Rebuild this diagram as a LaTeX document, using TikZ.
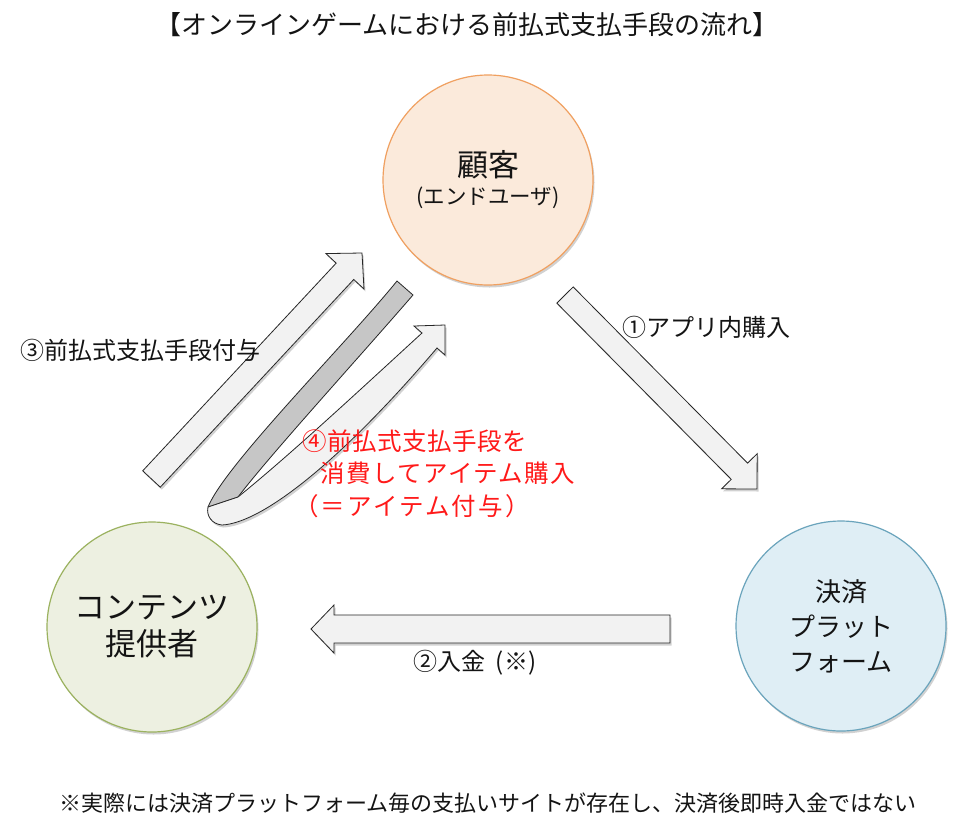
\documentclass[tikz,border=0pt]{standalone}
\usepackage{fontspec}
\setmainfont{Noto Sans CJK JP}
\usetikzlibrary{calc,shadows}
\definecolor{custfill}{HTML}{FBEADB}
\definecolor{custline}{HTML}{F0A060}
\definecolor{contfill}{HTML}{EDF0E1}
\definecolor{contline}{HTML}{9BB25F}
\definecolor{payfill}{HTML}{DFEEF5}
\definecolor{payline}{HTML}{6AA4BC}
\definecolor{arrfill}{HTML}{F2F2F2}
\definecolor{bandfill}{HTML}{C6C6C6}
\definecolor{txt}{HTML}{141414}
\definecolor{redtxt}{HTML}{FF1A1A}

\newcommand{\flowarrow}[6]{% #1 name, #2 start, #3 tip, #4 shaft half-width, #5 head half-width, #6 head length
  \coordinate (#1-s) at (#2);
  \coordinate (#1-t) at (#3);
  \coordinate (#1-b) at ($(#1-t)!#6!(#1-s)$);
  \coordinate (#1-sp) at ($(#1-s)!#4!90:(#1-t)$);
  \coordinate (#1-sm) at ($(#1-s)!#4!-90:(#1-t)$);
  \coordinate (#1-bp) at ($(#1-b)!#4!90:(#1-t)$);
  \coordinate (#1-bm) at ($(#1-b)!#4!-90:(#1-t)$);
  \coordinate (#1-hp) at ($(#1-b)!#5!90:(#1-t)$);
  \coordinate (#1-hm) at ($(#1-b)!#5!-90:(#1-t)$);
  \draw[arrowbox] (#1-sp) -- (#1-bp) -- (#1-hp) -- (#1-t) -- (#1-hm) -- (#1-bm) -- (#1-sm) -- cycle;
}

\begin{document}
\begin{tikzpicture}[x=1pt,y=1pt,
  softshadow/.style={drop shadow={shadow xshift=1.5pt,shadow yshift=-2.5pt,opacity=0.18,fill=black}},
  arrowbox/.style={draw=black!85,line width=0.8pt,fill=arrfill,line join=miter,softshadow},
  bandbox/.style={draw=black!85,line width=0.8pt,fill=bandfill,line join=round},
  actor/.style={circle,minimum size=210pt,inner sep=0pt,line width=1.2pt,align=center,text=txt,softshadow},
  label/.style={inner sep=0pt,text=txt,font=\fontsize{24}{28}\selectfont},
  redlabel/.style={inner sep=0pt,anchor=west,text=redtxt,font=\fontsize{24.5}{28}\selectfont}
]
\useasboundingbox (0,0) rectangle (960,-825);
\fill[white] (0,0) rectangle (960,-825);

% title
\node[inner sep=0pt,text=txt,font=\fontsize{26}{30}\selectfont] (title) at (467,-25) {【オンラインゲームにおける前払式支払手段の流れ】};

% actors
\node[actor,draw=custline,fill=custfill] (cust) at (488,-180)
  {\fontsize{31}{38}\selectfont 顧客\\[7pt]\fontsize{21.5}{38}\selectfont (エンドユーザ)};
\node[actor,draw=contline,fill=contfill,font=\fontsize{31}{37}\selectfont] (cont) at (152,-627)
  {コンテンツ\\提供者};
\node[actor,draw=payline,fill=payfill,font=\fontsize{26}{35}\selectfont] (pay) at (841,-626)
  {決済\\プラット\\フォーム};

% (1) purchase arrow
\flowarrow{a1}{565,-295}{757,-489}{11.5pt}{25pt}{25pt}
% (2) payment arrow
\flowarrow{a2}{670,-629}{311,-629}{14pt}{24pt}{23pt}
% (3) grant arrow
\flowarrow{a3}{151.5,-479}{362,-253}{12pt}{26pt}{25pt}

% (4) curved arrow
\coordinate (g1) at (397,-281);
\coordinate (g2) at (413,-295);
\coordinate (m)  at (238,-497);
\coordinate (b1) at (208,-507);
\coordinate (b2) at (222,-525);
\coordinate (hlo) at (437,-348);
\coordinate (hc2) at (445,-355);
\coordinate (tip) at (445,-325);
\coordinate (hc1) at (414,-326);
\coordinate (hup) at (422,-333);
\draw[bandbox] (g1) -- (g2) .. controls (355,-362) and (270,-455) .. (m) -- (b1)
  .. controls (225,-465) and (345,-345) .. (g1) -- cycle;
\draw[arrowbox] (m) -- (b1) .. controls (206,-516) and (212,-524) .. (b2)
  .. controls (262,-523) and (340,-462) .. (hlo) -- (hc2) -- (tip) -- (hc1) -- (hup)
  .. controls (362,-388) and (290,-455) .. (m) -- cycle;

% labels
\node[label,anchor=west] (l1) at (622,-327) {①アプリ内購入};
\node[label,anchor=west] (l2) at (413,-663) {②入金\hspace{0.45em}(※)};
\node[label,anchor=west] (l3) at (20,-350) {③前払式支払手段付与};
\node[redlabel] (r1) at (302,-441) {\addfontfeature{LetterSpace=2}④前払式支払手段を};
\node[redlabel] (r2) at (320,-473) {\addfontfeature{LetterSpace=6}消費してアイテム購入};
\node[redlabel] (r3) at (294,-506) {\addfontfeature{LetterSpace=9}（＝アイテム付与）};

% note
\node[inner sep=0pt,text=txt,font=\fontsize{22}{26}\selectfont] (note) at (488,-803)
  {※実際には決済プラットフォーム毎の支払いサイトが存在し、決済後即時入金ではない};
\end{tikzpicture}
\end{document}
